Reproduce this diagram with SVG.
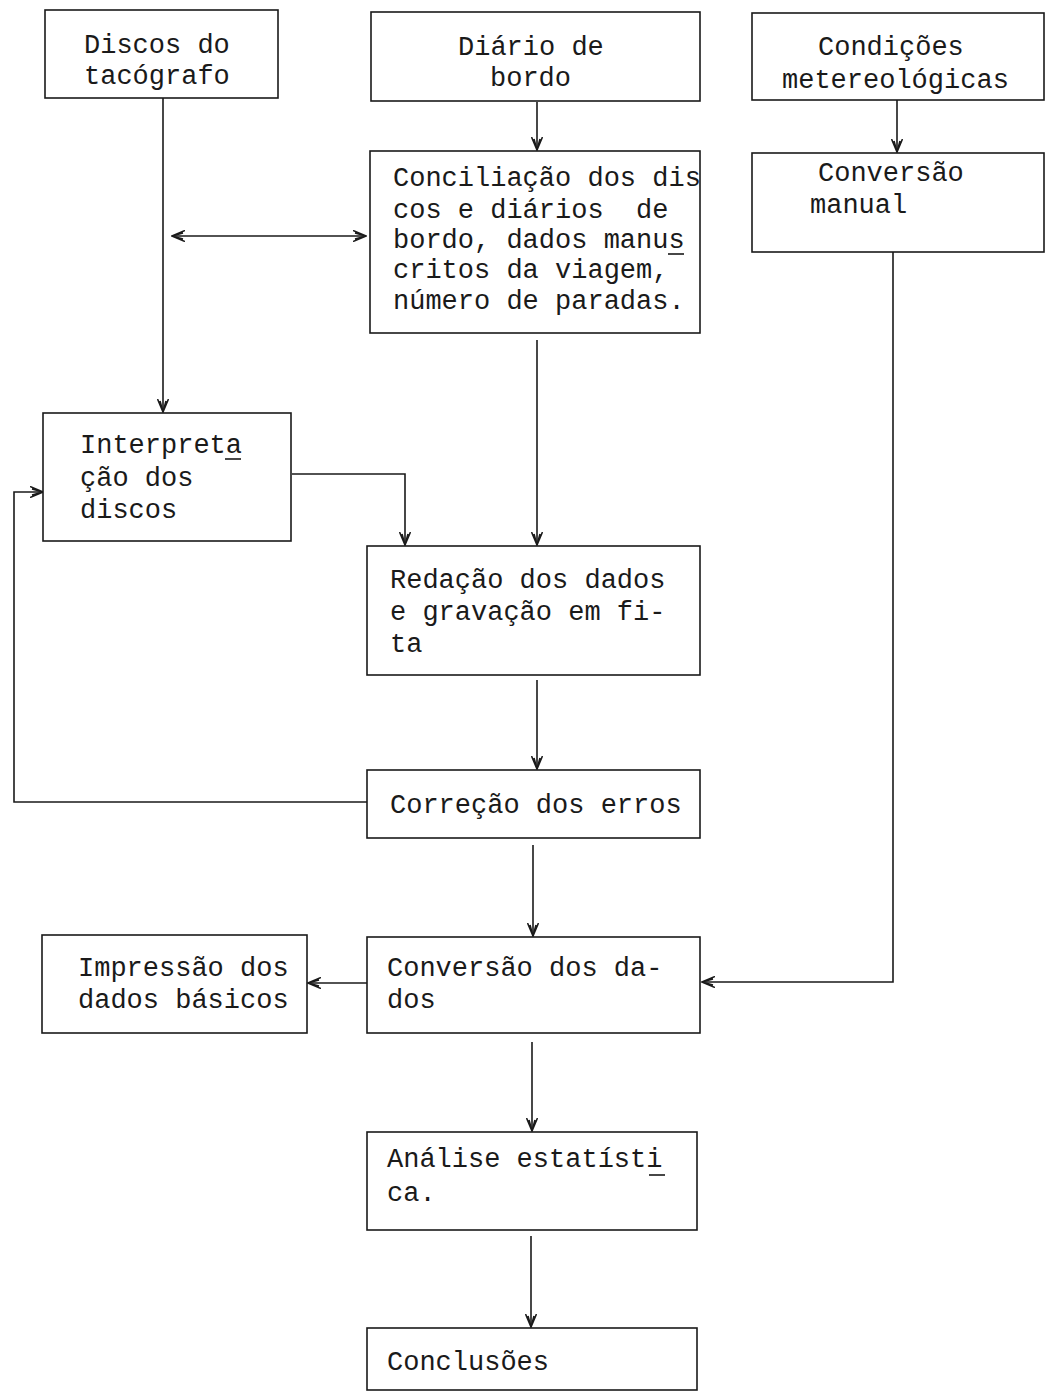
<svg xmlns="http://www.w3.org/2000/svg" width="1046" height="1395" viewBox="0 0 1046 1395">
<style>
.box{fill:#fff;stroke:#1a1a1a;stroke-width:1.6}
.t{font-family:"Liberation Mono","DejaVu Sans Mono",monospace;font-size:27px;fill:#1a1a1a;white-space:pre}
.c{fill:none;stroke:#1a1a1a;stroke-width:1.6}
.u{stroke:#1a1a1a;stroke-width:1.6}
</style>
<defs>
<marker id="ah" viewBox="0 0 14 12" refX="13" refY="6" markerWidth="14" markerHeight="12" markerUnits="userSpaceOnUse" orient="auto-start-reverse">
<path d="M0,0.5 L13,6 L0,11.5 M2,3 L13,6 L2,9" fill="none" stroke="#1a1a1a" stroke-width="1.6"/>
</marker>
</defs>
<rect width="1046" height="1395" fill="#fff"/>
<g id="connectors">
<line class="c" x1="163" y1="98" x2="163" y2="412" marker-end="url(#ah)"/>
<line class="c" x1="172" y1="236" x2="366" y2="236" marker-start="url(#ah)" marker-end="url(#ah)"/>
<line class="c" x1="537" y1="102" x2="537" y2="150" marker-end="url(#ah)"/>
<line class="c" x1="897" y1="100" x2="897" y2="152" marker-end="url(#ah)"/>
<line class="c" x1="537" y1="340" x2="537" y2="545" marker-end="url(#ah)"/>
<polyline class="c" points="292,474 405,474 405,545" marker-end="url(#ah)"/>
<line class="c" x1="537" y1="680" x2="537" y2="769" marker-end="url(#ah)"/>
<polyline class="c" points="367,802 14,802 14,492 43,492" marker-end="url(#ah)"/>
<line class="c" x1="533" y1="845" x2="533" y2="936" marker-end="url(#ah)"/>
<polyline class="c" points="893,252 893,982 702,982" marker-end="url(#ah)"/>
<line class="c" x1="367" y1="983" x2="308" y2="983" marker-end="url(#ah)"/>
<line class="c" x1="532" y1="1042" x2="532" y2="1131" marker-end="url(#ah)"/>
<line class="c" x1="531" y1="1236" x2="531" y2="1327" marker-end="url(#ah)"/>
</g>
<g id="n1"><rect class="box" x="45" y="10" width="233" height="88"/>
<text class="t" x="84" y="53">Discos do</text><text class="t" x="84" y="84">tacógrafo</text></g>
<g id="n2"><rect class="box" x="371" y="12" width="329" height="89"/>
<text class="t" x="458" y="55">Diário de</text><text class="t" x="490" y="86">bordo</text></g>
<g id="n3"><rect class="box" x="752" y="13" width="292" height="87"/>
<text class="t" x="818" y="55">Condições</text><text class="t" x="782" y="88">metereológicas</text></g>
<g id="n4"><rect class="box" x="752" y="153" width="292" height="99"/>
<text class="t" x="818" y="181">Conversão</text><text class="t" x="810" y="213">manual</text></g>
<g id="n5"><rect class="box" x="370" y="151" width="330" height="182"/>
<text class="t" x="393" y="186">Conciliação dos dis</text>
<text class="t" x="393" y="218">cos e diários  de</text>
<text class="t" x="393" y="248">bordo, dados manus</text>
<text class="t" x="393" y="278">critos da viagem,</text>
<text class="t" x="393" y="309">número de paradas.</text>
<line class="u" x1="668" y1="254" x2="684" y2="254"/></g>
<g id="n6"><rect class="box" x="43" y="413" width="248" height="128"/>
<text class="t" x="80" y="453">Interpreta</text><text class="t" x="80" y="486">ção dos</text><text class="t" x="80" y="518">discos</text>
<line class="u" x1="225" y1="459" x2="241" y2="459"/></g>
<g id="n7"><rect class="box" x="367" y="546" width="333" height="129"/>
<text class="t" x="390" y="588">Redação dos dados</text><text class="t" x="390" y="620">e gravação em fi-</text><text class="t" x="390" y="652">ta</text></g>
<g id="n8"><rect class="box" x="367" y="770" width="333" height="68"/>
<text class="t" x="390" y="813">Correção dos erros</text></g>
<g id="n9"><rect class="box" x="367" y="937" width="333" height="96"/>
<text class="t" x="387" y="976">Conversão dos da-</text><text class="t" x="387" y="1008">dos</text></g>
<g id="n10"><rect class="box" x="42" y="935" width="265" height="98"/>
<text class="t" x="78" y="976">Impressão dos</text><text class="t" x="78" y="1008">dados básicos</text></g>
<g id="n11"><rect class="box" x="367" y="1132" width="330" height="98"/>
<text class="t" x="387" y="1167">Análise estatísti</text><text class="t" x="387" y="1201">ca.</text>
<line class="u" x1="649" y1="1175" x2="665" y2="1175"/></g>
<g id="n12"><rect class="box" x="367" y="1328" width="330" height="62"/>
<text class="t" x="387" y="1370">Conclusões</text></g>
</svg>
